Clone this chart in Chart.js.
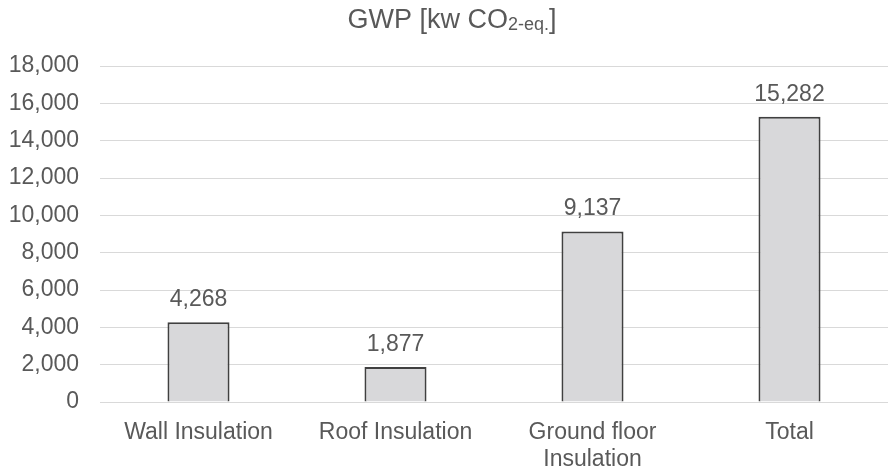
<!DOCTYPE html>
<html>
<head>
<meta charset="utf-8">
<script src="https://cdn.jsdelivr.net/npm/chart.js@4.4.0/dist/chart.umd.min.js"></script>
<style>
html,body{margin:0;padding:0;background:#fff;}
#wrap{width:888px;height:470px;position:relative;}
</style>
</head>
<body>
<div id="wrap"><canvas id="c" width="888" height="470"></canvas></div>
<script>
const categories = [["Wall Insulation"], ["Roof Insulation"], ["Ground floor", "Insulation"], ["Total"]];
const gwpValues = [4268, 1877, 9137, 15282];
const yTicks = [0, 2000, 4000, 6000, 8000, 10000, 12000, 14000, 16000, 18000];
const titleMain = "GWP [kw CO";
const titleSub = "2-eq.";
const titleEnd = "]";

const FONT = "'Liberation Sans', Arial, sans-serif";
const TXT = "#595959";
const FS = 23;

const titlePlugin = {
  id: 'subTitle',
  afterDraw(chart) {
    const ctx = chart.ctx;
    ctx.save();
    ctx.fillStyle = TXT;
    ctx.textBaseline = 'alphabetic';
    const big = "27px " + FONT, small = "18px " + FONT;
    ctx.font = big; const w1 = ctx.measureText(titleMain).width; const w3 = ctx.measureText(titleEnd).width;
    ctx.font = small; const w2 = ctx.measureText(titleSub).width;
    const total = w1 + w2 + w3;
    const cx = 452;
    let x = cx - total / 2;
    const base = 28;
    ctx.textAlign = 'left';
    ctx.font = big; ctx.fillText(titleMain, x, base); x += w1;
    ctx.font = small; ctx.fillText(titleSub, x, base + 2); x += w2;
    ctx.font = big; ctx.fillText(titleEnd, x, base);
    ctx.restore();
  }
};

const valueLabels = {
  id: 'valueLabels',
  afterDatasetsDraw(chart) {
    const ctx = chart.ctx;
    const meta = chart.getDatasetMeta(0);
    ctx.save();
    ctx.fillStyle = TXT;
    ctx.font = FS + "px " + FONT;
    ctx.textAlign = 'center';
    ctx.textBaseline = 'alphabetic';
    meta.data.forEach((bar, i) => {
      const v = chart.data.datasets[0].data[i];
      ctx.fillText(v.toLocaleString('en-US'), bar.x, bar.y - 16);
    });
    ctx.restore();
  }
};

new Chart(document.getElementById('c'), {
  type: 'bar',
  data: {
    labels: categories,
    datasets: [{
      data: gwpValues,
      backgroundColor: '#d8d8da',
      borderColor: '#404040',
      borderWidth: 2,
      barPercentage: 0.315,
      categoryPercentage: 1.0
    }]
  },
  options: {
    responsive: false,
    animation: false,
    devicePixelRatio: 1,
    layout: { padding: { top: 66, left: 8, right: 0, bottom: 0 } },
    plugins: { legend: { display: false }, tooltip: { enabled: false }, title: { display: false } },
    scales: {
      x: {
        grid: { display: false },
        border: { display: false },
        afterFit(axis) { axis.height = 68; },
        ticks: { color: TXT, font: { family: FONT, size: FS, lineHeight: 1.18 }, padding: 9, maxRotation: 0, autoSkip: false }
      },
      y: {
        min: 0, max: 18000,
        afterBuildTicks(axis) { axis.ticks = yTicks.map(v => ({ value: v })); },
        afterFit(axis) { axis.width = 92; },
        grid: { color: '#d9d9d9', lineWidth: 1, drawTicks: false },
        border: { display: false },
        ticks: {
          color: TXT, font: { family: FONT, size: FS }, padding: 21,
          callback: v => v.toLocaleString('en-US')
        }
      }
    }
  },
  plugins: [titlePlugin, valueLabels]
});
</script>
</body>
</html>
